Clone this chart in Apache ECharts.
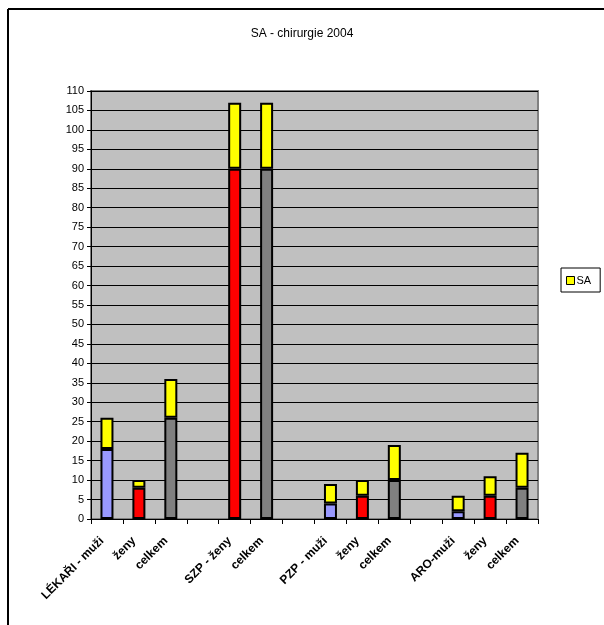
<!DOCTYPE html>
<html>
<head>
<meta charset="utf-8">
<script src="https://cdn.jsdelivr.net/npm/echarts@6/dist/echarts.min.js"></script>
<style>
  html, body { margin: 0; padding: 0; background: #fff; }
  #chart { width: 604px; height: 625px; }
</style>
</head>
<body>
<div id="chart"></div>
<script>
// Categories along the x axis (empty strings are spacer slots between groups)
const categories = [
  'LÉKAŘI - muži', 'ženy', 'celkem', '',
  'SZP - ženy', 'celkem', '',
  'PZP - muži', 'ženy', 'celkem', '',
  'ARO-muži', 'ženy', 'celkem'
];
// Group of each base bar: m = muži, z = ženy, c = celkem
const baseKind = ['m', 'z', 'c', '', 'z', 'c', '', 'm', 'z', 'c', '', 'm', 'z', 'c'];
// Base counts (bottom segment)
const baseValues = [18, 8, 26, null, 90, 90, null, 4, 6, 10, null, 2, 6, 8];
// SA counts (top segment, stacked)
const saValues = [8, 2, 10, null, 17, 17, null, 5, 4, 9, null, 4, 5, 9];
// Y axis range
const yMin = 0, yMax = 110, yStep = 5;

const kindColor = { m: '#9999FF', z: '#FF0000', c: '#808080' };
const font = '"Liberation Sans", Arial, sans-serif';

const chart = echarts.init(document.getElementById('chart'), null, { renderer: 'canvas' });

chart.setOption({
  animation: false,
  backgroundColor: '#ffffff',
  title: {
    text: 'SA - chirurgie 2004',
    left: 'center',
    top: 23,
    textStyle: { fontFamily: font, fontSize: 12, fontWeight: 'normal', color: '#000' }
  },
  legend: {
    data: ['SA'],
    left: 561,
    top: 268,
    orient: 'vertical',
    padding: [7, 9, 6, 5],
    borderColor: '#000',
    borderWidth: 1,
    icon: 'rect',
    itemWidth: 8,
    itemHeight: 8,
    itemGap: 0,
    selectedMode: false,
    itemStyle: { borderColor: '#000', borderWidth: 1 },
    textStyle: { fontFamily: font, fontSize: 11, color: '#000', padding: [0, 0, 0, -3] }
  },
  grid: {
    left: 91,
    right: 66,
    top: 91,
    bottom: 106,
    show: true,
    backgroundColor: '#C0C0C0',
    borderColor: '#808080',
    borderWidth: 2,
    containLabel: false
  },
  xAxis: {
    type: 'category',
    data: categories,
    boundaryGap: true,
    axisLine: { lineStyle: { color: '#000', width: 1 } },
    axisTick: { show: true, alignWithLabel: false, interval: 0, length: 5, lineStyle: { color: '#000' } },
    axisLabel: {
      interval: 0,
      rotate: 45,
      margin: 15,
      padding: [0, 7, 0, 0],
      fontFamily: font,
      fontSize: 12,
      fontWeight: 'bold',
      color: '#000'
    },
    splitLine: { show: false }
  },
  yAxis: {
    type: 'value',
    min: yMin,
    max: yMax,
    interval: yStep,
    axisLine: { show: true, lineStyle: { color: '#000', width: 1 } },
    axisTick: { show: true, length: 4, lineStyle: { color: '#000' } },
    axisLabel: { fontFamily: font, fontSize: 11, color: '#000', margin: 7 },
    splitLine: { show: true, lineStyle: { color: '#000', width: 1 } }
  },
  series: [
    {
      name: 'base',
      type: 'bar',
      stack: 'total',
      barWidth: 13,
      data: baseValues.map((v, i) => ({
        value: v,
        itemStyle: { color: kindColor[baseKind[i]] || '#808080' }
      })),
      itemStyle: { borderColor: '#000', borderWidth: 2 },
      emphasis: { disabled: true }
    },
    {
      name: 'SA',
      type: 'bar',
      stack: 'total',
      barWidth: 13,
      data: saValues,
      itemStyle: { color: '#FFFF00', borderColor: '#000', borderWidth: 2 },
      emphasis: { disabled: true }
    }
  ],
  graphic: [
    { type: 'line', shape: { x1: 8, y1: 9, x2: 604, y2: 9 }, style: { stroke: '#000', lineWidth: 2 } },
    { type: 'line', shape: { x1: 8, y1: 9, x2: 8, y2: 625 }, style: { stroke: '#000', lineWidth: 2 } }
  ]
});
</script>
</body>
</html>
